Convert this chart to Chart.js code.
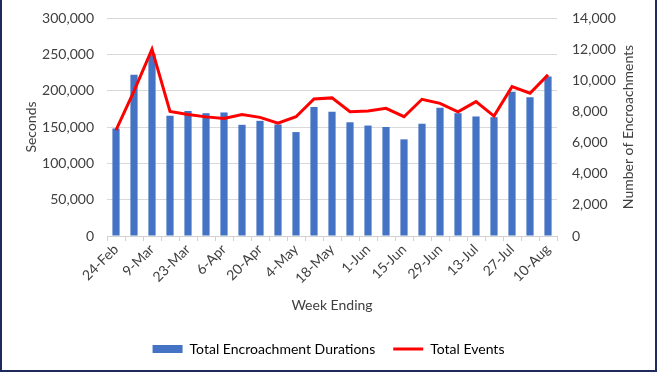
<!DOCTYPE html>
<html>
<head>
<meta charset="utf-8">
<script src="https://cdn.jsdelivr.net/npm/chart.js@4"></script>
<style>
  html, body { margin: 0; padding: 0; background: #ffffff; }
  #wrap { position: relative; width: 657px; height: 383px; overflow: hidden; }
  #c { position: absolute; left: 0; top: 0; }
  #frame { position: absolute; left: 0; top: -2px; width: 653px; height: 370px; border: 2px solid #1f2a5c; pointer-events: none; }
</style>
</head>
<body>
<div id="wrap">
  <canvas id="c" width="657" height="383"></canvas>
  <div id="frame"></div>
</div>
<script>
const weeks = ['24-Feb','2-Mar','9-Mar','16-Mar','23-Mar','30-Mar','6-Apr','13-Apr','20-Apr','27-Apr','4-May','11-May','18-May','25-May','1-Jun','8-Jun','15-Jun','22-Jun','29-Jun','6-Jul','13-Jul','20-Jul','27-Jul','3-Aug','10-Aug'];
const durations = [148000,222000,250000,165500,172000,169000,170000,153000,158500,153500,143000,177500,171000,156500,152000,150000,133000,154500,176500,169000,164500,163500,198500,191000,219500];
const events = [6800,9300,12000,8000,7800,7650,7550,7800,7620,7250,7660,8800,8870,7980,8030,8200,7660,8780,8520,7980,8630,7700,9590,9170,10350];
const leftTicks = [0,50000,100000,150000,200000,250000,300000];
const rightTicks = [0,2000,4000,6000,8000,10000,12000,14000];
const rightTitle = 'Number of Encroachments';

const FONT = 'Lato, "Open Sans", sans-serif';
const FS = 14;
const TXT = '#404040';
const fmt = v => v.toLocaleString('en-US');

const rightTitlePlugin = {
  id: 'rightTitle',
  afterDraw(chart) {
    const s = chart.scales.y1;
    const ctx = chart.ctx;
    ctx.save();
    ctx.fillStyle = TXT;
    ctx.font = FS + 'px ' + FONT;
    ctx.textAlign = 'center';
    ctx.textBaseline = 'middle';
    ctx.translate(s.right - 15, (s.top + s.bottom) / 2);
    ctx.rotate(-Math.PI / 2);
    ctx.fillText(rightTitle, 0, 0);
    ctx.restore();
  }
};

new Chart(document.getElementById('c'), {
  data: {
    labels: weeks,
    datasets: [
      { type: 'line', label: 'Total Events', data: events, yAxisID: 'y1',
        borderColor: '#ff0000', backgroundColor: '#ff0000', borderWidth: 3,
        pointRadius: 0, tension: 0, order: 0 },
      { type: 'bar', label: 'Total Encroachment Durations', data: durations, yAxisID: 'y',
        backgroundColor: '#4472c4', barPercentage: 0.4, categoryPercentage: 1.0, order: 1 }
    ]
  },
  options: {
    responsive: false,
    animation: false,
    layout: { padding: { left: 14, right: 14, top: 18, bottom: 17 } },
    plugins: {
      tooltip: { enabled: false },
      legend: {
        position: 'bottom',
        reverse: true,
        labels: {
          usePointStyle: true,
          pointStyleWidth: 30,
          boxHeight: 8,
          padding: 18,
          color: TXT,
          font: { family: FONT, size: FS },
          generateLabels(chart) {
            const ds = chart.data.datasets;
            return ds.map((d, i) => ({
              text: d.label,
              datasetIndex: i,
              fillStyle: d.type === 'bar' ? d.backgroundColor : d.borderColor,
              strokeStyle: d.type === 'bar' ? d.backgroundColor : d.borderColor,
              lineWidth: d.type === 'bar' ? 0 : 3,
              pointStyle: d.type === 'bar' ? 'rect' : 'line',
              hidden: false
            }));
          }
        }
      }
    },
    scales: {
      x: {
        afterFit(s) { s.height = 88; },
        grid: { display: true, drawOnChartArea: false, offset: true, color: '#d0d0d0', tickLength: 5 },
        border: { color: '#d0d0d0' },
        ticks: {
          autoSkip: false, minRotation: 45, maxRotation: 45, color: TXT,
          font: { family: FONT, size: FS }, padding: 0,
          callback(v, i) { return i % 2 === 0 ? weeks[i] : ''; }
        },
        title: { display: true, text: 'Week Ending', color: TXT, font: { family: FONT, size: FS }, padding: { top: 4, bottom: 10 } }
      },
      y: {
        position: 'left', min: 0, max: 300000,
        afterBuildTicks(s) { s.ticks = leftTicks.map(v => ({ value: v })); },
        afterFit(s) { s.width = 93; },
        grid: { color: '#d9d9d9', drawTicks: true, tickLength: 9, tickColor: 'rgba(0,0,0,0)' },
        border: { display: false },
        ticks: { color: TXT, font: { family: FONT, size: FS }, padding: 4, callback: v => fmt(v) },
        title: { display: true, text: 'Seconds', color: TXT, font: { family: FONT, size: FS }, padding: { top: 9, bottom: 0 } }
      },
      y1: {
        position: 'right', min: 0, max: 14000,
        afterBuildTicks(s) { s.ticks = rightTicks.map(v => ({ value: v })); },
        afterFit(s) { s.width = 86; },
        grid: { display: true, drawOnChartArea: false, drawTicks: true, tickLength: 11, tickColor: 'rgba(0,0,0,0)' },
        border: { display: false },
        ticks: { color: TXT, font: { family: FONT, size: FS }, padding: 4, callback: v => fmt(v) },
        title: { display: false }
      }
    }
  },
  plugins: [rightTitlePlugin]
});
</script>
</body>
</html>
